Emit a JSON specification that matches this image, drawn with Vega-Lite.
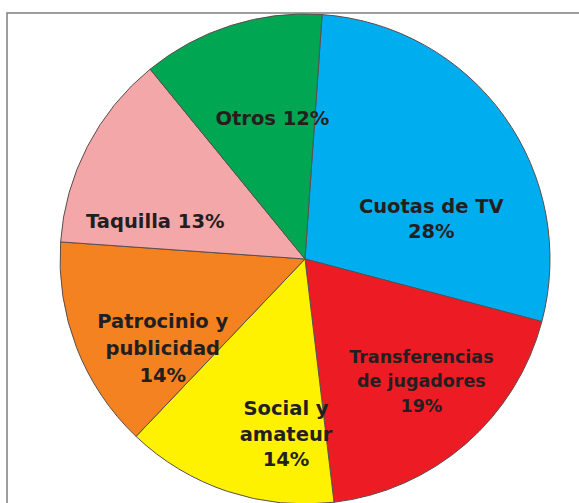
{
  "$schema": "https://vega.github.io/schema/vega-lite/v6.json",
  "width": 596,
  "height": 492,
  "padding": {"left": 7, "top": 12, "right": 0, "bottom": 0},
  "background": "white",
  "view": {"stroke": "#7f7f7f", "strokeWidth": 1.5, "fill": "white"},
  "config": {"view": {"stroke": "#7f7f7f", "strokeWidth": 1.5}},
  "data": {
    "values": [
      {"cat": "Cuotas de TV", "pct": 28, "ord": 1, "label": "Cuotas de TV\n28%"},
      {"cat": "Transferencias de jugadores", "pct": 19, "ord": 2, "label": "Transferencias\nde jugadores\n19%"},
      {"cat": "Social y amateur", "pct": 14, "ord": 3, "label": "Social y\namateur\n14%"},
      {"cat": "Patrocinio y publicidad", "pct": 14, "ord": 4, "label": "Patrocinio y\npublicidad\n14%"},
      {"cat": "Taquilla", "pct": 13, "ord": 5, "label": "Taquilla 13%"},
      {"cat": "Otros", "pct": 12, "ord": 6, "label": "Otros 12%"}
    ]
  },
  "encoding": {
    "theta": {"field": "pct", "type": "quantitative", "stack": true, "scale": {"domain": [0, 100], "range": [0.0698, 6.353]}},
    "order": {"field": "ord", "type": "quantitative", "sort": "ascending"}
  },
  "layer": [
    {
      "mark": {"type": "arc", "radius": 245, "stroke": "#5b4e4e", "strokeWidth": 1},
      "encoding": {
        "color": {
          "field": "cat", "type": "nominal", "legend": null,
          "scale": {
            "domain": ["Cuotas de TV", "Transferencias de jugadores", "Social y amateur", "Patrocinio y publicidad", "Taquilla", "Otros"],
            "range": ["#00AEEF", "#ED1C24", "#FFF200", "#F58220", "#F4A7A9", "#00A651"]
          }
        }
      }
    },
    {
      "mark": {"type": "text", "radius": 132, "thetaOffset": 0.3265, "dy": -13.5, "font": "DejaVu Sans", "fontWeight": "bold", "fontSize": 19.5, "lineBreak": "\n", "lineHeight": 25, "color": "#231F20", "align": "center", "baseline": "middle"},
      "encoding": {"text": {"condition": {"test": "datum.ord == 1", "field": "label"}, "value": ""}}
    },
    {
      "mark": {"type": "text", "radius": 170, "thetaOffset": -0.0385, "dy": -25, "font": "DejaVu Sans", "fontWeight": "bold", "fontSize": 17.5, "lineBreak": "\n", "lineHeight": 24.5, "color": "#231F20", "align": "center", "baseline": "middle"},
      "encoding": {"text": {"condition": {"test": "datum.ord == 2", "field": "label"}, "value": ""}}
    },
    {
      "mark": {"type": "text", "radius": 178, "thetaOffset": -0.2145, "dy": -26.5, "font": "DejaVu Sans", "fontWeight": "bold", "fontSize": 19.5, "lineBreak": "\n", "lineHeight": 25.5, "color": "#231F20", "align": "center", "baseline": "middle"},
      "encoding": {"text": {"condition": {"test": "datum.ord == 3", "field": "label"}, "value": ""}}
    },
    {
      "mark": {"type": "text", "radius": 169, "thetaOffset": -0.2005, "dy": -28.5, "font": "DejaVu Sans", "fontWeight": "bold", "fontSize": 19.5, "lineBreak": "\n", "lineHeight": 27, "color": "#231F20", "align": "center", "baseline": "middle"},
      "encoding": {"text": {"condition": {"test": "datum.ord == 4", "field": "label"}, "value": ""}}
    },
    {
      "mark": {"type": "text", "radius": 154, "thetaOffset": -0.2425, "dy": -1, "font": "DejaVu Sans", "fontWeight": "bold", "fontSize": 19.5, "color": "#231F20", "align": "center", "baseline": "middle"},
      "encoding": {"text": {"condition": {"test": "datum.ord == 5", "field": "label"}, "value": ""}}
    },
    {
      "mark": {"type": "text", "radius": 142, "thetaOffset": 0.0755, "dy": -2, "font": "DejaVu Sans", "fontWeight": "bold", "fontSize": 19.5, "color": "#231F20", "align": "center", "baseline": "middle"},
      "encoding": {"text": {"condition": {"test": "datum.ord == 6", "field": "label"}, "value": ""}}
    }
  ]
}
